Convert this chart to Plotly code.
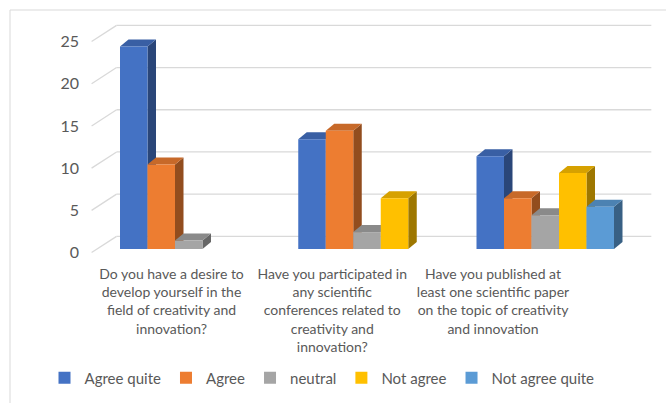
import plotly.graph_objects as go

# ---------------- data ----------------
categories = [
    "Do you have a desire to<br>develop yourself in the<br>field of creativity and<br>innovation?",
    "Have you participated in<br>any scientific<br>conferences related to<br>creativity and<br>innovation?",
    "Have you published at<br>least one scientific paper<br>on the topic of creativity<br>and innovation",
]
series_names = ["Agree quite", "Agree", "neutral", "Not agree", "Not agree quite"]
agree_quite = [24, 13, 11]
agree = [10, 14, 6]
neutral = [1, 2, 4]
not_agree = [0, 6, 9]
not_agree_quite = [0, 0, 5]
series_values = [agree_quite, agree, neutral, not_agree, not_agree_quite]
y_ticks = [0, 5, 10, 15, 20, 25]

# ---------------- style ----------------
colors = ["#4472c4", "#ed7d31", "#a5a5a5", "#ffc000", "#5b9bd5"]
TEXT = "#595959"
GRID = "#d9d9d9"
FONT = "Lato"

W, H = 666, 403
L, R, T, B = 80, 660, 14, 262          # plot area in pixels
KX, KY = 178.25, 8.44                  # px per category / per value unit
X0PX, Y0PX = 188.75, 249               # pixel of category 0 / value 0 (bar front plane)

x_range = [(L - X0PX) / KX, (R - X0PX) / KX]
y_range = [(Y0PX - B) / KY, (Y0PX - T) / KY]

n = len(series_values)
BW = 27.5 / KX                         # bar width (category units)
G0 = -n * BW / 2                       # left edge of group
DX, DY = 8.5 / KX, 7.0 / KY            # bar depth projection
FX, FY = -0.045, -0.42                 # wall front edge offset
BX, BY = 0.095, 1.5                    # wall back edge offset
LBL0, LBLSTEP = (171.5 - X0PX) / KX, 160.75 / KX   # category label placement


def shade(hexcol, f):
    h = hexcol.lstrip("#")
    r, g, b = (int(h[i:i + 2], 16) for i in (0, 2, 4))
    return "#%02x%02x%02x" % (int(r * f), int(g * f), int(b * f))


def poly(pts):
    return "M " + " L ".join(f"{x:.5f},{y:.5f}" for x, y in pts) + " Z"


shapes = []
# walls: back gridlines and left-wall diagonals
for v in y_ticks:
    shapes.append(dict(type="line", xref="x", yref="y", layer="below",
                       x0=-0.5 + BX, y0=v + BY, x1=len(categories) - 0.5 + BX, y1=v + BY,
                       line=dict(color=GRID, width=1.3)))
    shapes.append(dict(type="line", xref="x", yref="y", layer="below",
                       x0=-0.5 + FX, y0=v + FY, x1=-0.5 + BX, y1=v + BY,
                       line=dict(color=GRID, width=1.3)))

side_shapes, top_shapes = [], []
for j, vals in enumerate(series_values):
    for i, v in enumerate(vals):
        if v == 0:
            continue
        xl = i + G0 + j * BW
        xr = xl + BW
        side_shapes.append(dict(type="path", xref="x", yref="y", layer="below",
                                path=poly([(xr, 0), (xr, v), (xr + DX, v + DY), (xr + DX, DY)]),
                                fillcolor=shade(colors[j], 0.62), line=dict(width=0)))
        top_shapes.append(dict(type="path", xref="x", yref="y", layer="below",
                               path=poly([(xl, v), (xr, v), (xr + DX, v + DY), (xl + DX, v + DY)]),
                               fillcolor=shade(colors[j], 0.84), line=dict(width=0)))
shapes += side_shapes + top_shapes

# chart border
shapes.append(dict(type="rect", xref="paper", yref="paper", layer="below",
                   x0=(10 - L) / (R - L), x1=(W + 5 - L) / (R - L),
                   y0=(B - (H + 5)) / (B - T), y1=(B - 10) / (B - T),
                   line=dict(color=GRID, width=1), fillcolor="rgba(0,0,0,0)"))

fig = go.Figure()
for j, vals in enumerate(series_values):
    fig.add_trace(go.Bar(
        x=list(range(len(categories))), y=vals, name=series_names[j],
        width=BW, offset=G0 + j * BW,
        marker=dict(color=colors[j], line=dict(width=0)),
    ))

fig.update_layout(
    width=W, height=H, autosize=False,
    margin=dict(l=L, r=W - R, t=T, b=H - B, pad=0),
    paper_bgcolor="white", plot_bgcolor="white",
    barmode="overlay",
    font=dict(family=FONT, color=TEXT, size=14),
    shapes=shapes,
    showlegend=True,
    legend=dict(orientation="h", x=(322 - L) / (R - L), xanchor="center",
                y=-(378 - B) / (B - T), yanchor="middle",
                font=dict(family=FONT, size=15, color=TEXT),
                traceorder="normal", bgcolor="rgba(0,0,0,0)"),
    xaxis=dict(range=x_range, showgrid=False, zeroline=False, showline=False,
               tickmode="array",
               tickvals=[LBL0 + i * LBLSTEP for i in range(len(categories))],
               ticktext=categories, ticks="", tickangle=0, ticklabelstandoff=2,
               tickfont=dict(family=FONT, size=14, color=TEXT)),
    yaxis=dict(range=y_range, showgrid=False, zeroline=False, showline=False,
               tickmode="array", tickvals=[v + FY for v in y_ticks],
               ticktext=[str(v) for v in y_ticks], ticks="",
               tickfont=dict(family=FONT, size=16, color=TEXT)),
)

fig.write_html("out.html")
